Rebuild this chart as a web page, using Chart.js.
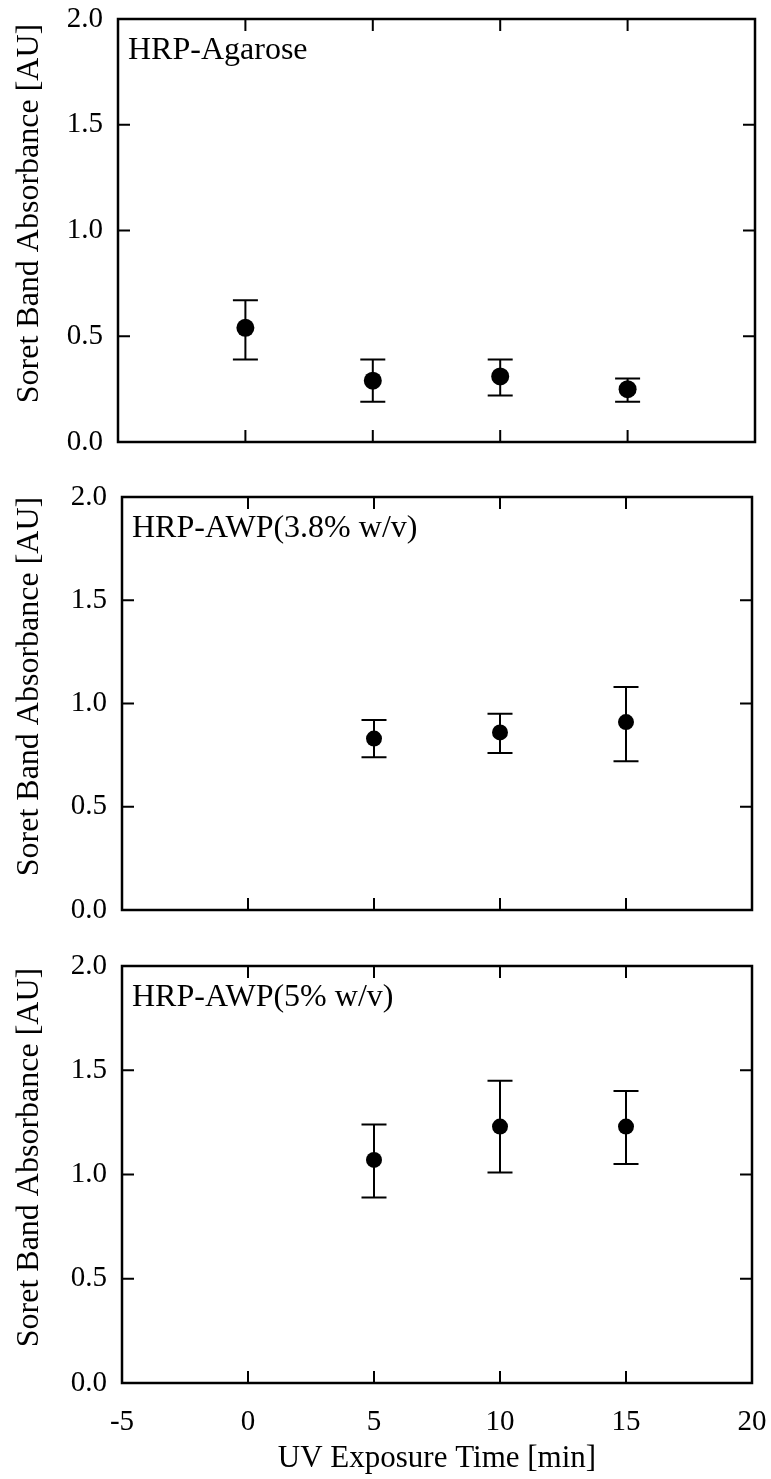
<!DOCTYPE html>
<html>
<head>
<meta charset="utf-8">
<script src="https://cdn.jsdelivr.net/npm/chart.js@4"></script>
<style>
  body { margin: 0; background: #fff; }
  canvas { position: absolute; left: 0; }
</style>
</head>
<body>
<canvas id="c1" width="771" height="470" style="top:0"></canvas>
<canvas id="c2" width="771" height="470" style="top:470px"></canvas>
<canvas id="c3" width="771" height="539" style="top:940px"></canvas>
<script>
// data
const agaroseTime = [0, 5, 10, 15];
const agaroseMean = [0.54, 0.29, 0.31, 0.25];
const agaroseLow  = [0.39, 0.19, 0.22, 0.19];
const agaroseHigh = [0.67, 0.39, 0.39, 0.30];

const awp38Time = [5, 10, 15];
const awp38Mean = [0.83, 0.86, 0.91];
const awp38Low  = [0.74, 0.76, 0.72];
const awp38High = [0.92, 0.95, 1.08];

const awp5Time = [5, 10, 15];
const awp5Mean = [1.07, 1.23, 1.23];
const awp5Low  = [0.89, 1.01, 1.05];
const awp5High = [1.24, 1.45, 1.40];

const xTicks = [-5, 0, 5, 10, 15, 20];
const yTicks = [0, 0.5, 1.0, 1.5, 2.0];

const FONT = '"Liberation Serif", "Times New Roman", serif';

const panelPlugin = {
  id: 'panel',
  beforeDatasetsDraw(chart, args, opts) {
    const {ctx, scales: {x, y}} = chart;
    ctx.save();
    ctx.strokeStyle = '#000';
    ctx.lineWidth = 2;
    opts.low.forEach((lo, i) => {
      const px = x.getPixelForValue(opts.xs[i]);
      const p1 = y.getPixelForValue(lo);
      const p2 = y.getPixelForValue(opts.high[i]);
      ctx.beginPath();
      ctx.moveTo(px, p1); ctx.lineTo(px, p2);
      ctx.moveTo(px - 12.5, p1); ctx.lineTo(px + 12.5, p1);
      ctx.moveTo(px - 12.5, p2); ctx.lineTo(px + 12.5, p2);
      ctx.stroke();
    });
    ctx.restore();
  },
  afterDraw(chart, args, opts) {
    const {ctx, chartArea: a, scales: {x, y}} = chart;
    ctx.save();
    ctx.strokeStyle = '#000';
    ctx.lineWidth = 2.5;
    ctx.strokeRect(a.left, a.top, a.right - a.left, a.bottom - a.top);
    const tl = 12;
    ctx.lineWidth = 2;
    ctx.beginPath();
    x.ticks.forEach(t => {
      const px = x.getPixelForValue(t.value);
      if (px <= a.left + 1 || px >= a.right - 1) return;
      ctx.moveTo(px, a.bottom); ctx.lineTo(px, a.bottom - tl);
      ctx.moveTo(px, a.top); ctx.lineTo(px, a.top + tl);
    });
    y.ticks.forEach(t => {
      const py = y.getPixelForValue(t.value);
      if (py <= a.top + 1 || py >= a.bottom - 1) return;
      ctx.moveTo(a.left, py); ctx.lineTo(a.left + tl, py);
      ctx.moveTo(a.right, py); ctx.lineTo(a.right - tl, py);
    });
    ctx.stroke();
    ctx.fillStyle = '#000';
    // panel label
    ctx.font = '32px ' + FONT;
    ctx.textAlign = 'left';
    ctx.textBaseline = 'alphabetic';
    ctx.fillText(opts.label, a.left + 10, a.top + 40);
    // y axis title, sits a little above the middle of the frame
    ctx.translate(30, (a.top + a.bottom) / 2 - 17);
    ctx.rotate(-Math.PI / 2);
    ctx.textAlign = 'center';
    ctx.textBaseline = 'middle';
    ctx.fillText('Soret Band Absorbance [AU]', 0, 0);
    ctx.restore();
  }
};

function makePanel(id, label, xs, mean, low, high, box, showX) {
  new Chart(document.getElementById(id), {
    type: 'scatter',
    data: {
      datasets: [{
        data: xs.map((v, i) => ({x: v, y: mean[i]})),
        pointRadius: box.r,
        pointBackgroundColor: '#000',
        pointBorderColor: '#000',
        pointBorderWidth: 0
      }]
    },
    options: {
      responsive: false,
      animation: false,
      events: [],
      layout: { padding: { top: box.top, right: box.right, left: 0, bottom: 0 } },
      plugins: {
        legend: { display: false },
        tooltip: { enabled: false },
        panel: { label: label, xs: xs, low: low, high: high }
      },
      scales: {
        x: {
          type: 'linear',
          min: -5, max: 20,
          afterBuildTicks: s => { s.ticks = xTicks.map(v => ({value: v})); },
          afterFit: s => { s.height = box.bottom; s.paddingLeft = 0; s.paddingRight = 0; },
          grid: { display: false, drawTicks: false },
          border: { display: false },
          ticks: {
            display: showX,
            padding: 22,
            color: '#000',
            font: { family: FONT, size: 29 },
            maxRotation: 0
          },
          title: {
            display: showX,
            text: 'UV Exposure Time [min]',
            color: '#000',
            font: { family: FONT, size: 31 },
            padding: { bottom: 2 }
          }
        },
        y: {
          type: 'linear',
          min: 0, max: 2,
          afterBuildTicks: s => { s.ticks = yTicks.map(v => ({value: v})); },
          afterFit: s => { s.width = box.left; s.paddingTop = 0; s.paddingBottom = 0; },
          grid: { display: false, drawTicks: false },
          border: { display: false },
          ticks: {
            padding: 15,
            color: '#000',
            font: { family: FONT, size: 29 },
            callback: v => v.toFixed(1)
          },
          title: { display: false }
        }
      }
    },
    plugins: [panelPlugin]
  });
}

makePanel('c1', 'HRP-Agarose', agaroseTime, agaroseMean, agaroseLow, agaroseHigh,
  {top: 19, right: 16, left: 118, bottom: 28, r: 9}, false);
makePanel('c2', 'HRP-AWP(3.8% w/v)', awp38Time, awp38Mean, awp38Low, awp38High,
  {top: 27, right: 19, left: 122, bottom: 30, r: 8}, false);
makePanel('c3', 'HRP-AWP(5% w/v)', awp5Time, awp5Mean, awp5Low, awp5High,
  {top: 26, right: 19, left: 122, bottom: 96, r: 8}, true);
</script>
</body>
</html>
